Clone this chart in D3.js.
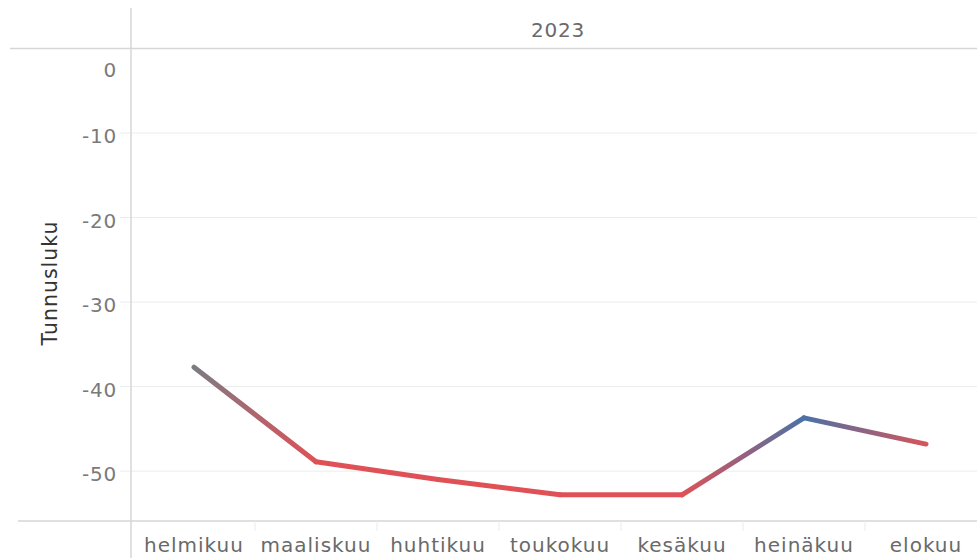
<!DOCTYPE html>
<html lang="fi">
<head>
    <meta charset="UTF-8">
    <title>Tunnusluku 2023</title>
    <script src="https://d3js.org/d3.v7.min.js"></script>
    <style>
        body {
            margin: 0;
            padding: 0;
            background: #fff;
            overflow: hidden;
        }
        svg text {
            font-family: "DejaVu Sans", Verdana, sans-serif;
        }
        .tick-label {
            font-size: 20px;
            fill: #7a7a7a;
            letter-spacing: 0.8px;
        }
        .month-label {
            font-size: 20px;
            fill: #6a6a6a;
            letter-spacing: 1px;
        }
    </style>
</head>
<body>
    <svg id="chart" width="977" height="558"></svg>

    <script>
        // Data
        const months = ["helmikuu", "maaliskuu", "huhtikuu", "toukokuu", "kesäkuu", "heinäkuu", "elokuu"];
        const values = [-37.7, -48.9, -51.0, -52.8, -52.8, -43.7, -46.8];
        // colour measure (diverging: negative = red, 0 = grey, positive = blue)
        const colorValues = [0, -1, -1, -1, -1, 1, -0.9];
        const yTicks = [0, -10, -20, -30, -40, -50];
        const yearLabel = "2023";
        const yTitle = "Tunnusluku";

        const W = 977, H = 558;
        const paneLeft = 131, paneTop = 48.5, paneBottom = 521;
        const svg = d3.select("#chart");

        const x = d3.scaleBand().domain(months).range([133, 987]);
        const y = d3.scaleLinear().domain([-55.9, 0]).range([paneBottom, paneTop]);
        const color = d3.scaleLinear()
            .domain([-1, 0, 1])
            .range(["#df5157", "#7c7b82", "#4a72a7"]);

        // gridlines + small ticks left of the axis line
        svg.append("g").selectAll("line")
            .data(yTicks.filter(d => d !== 0))
            .enter().append("line")
            .attr("x1", 120).attr("x2", W)
            .attr("y1", d => y(d)).attr("y2", d => y(d))
            .attr("stroke", "#ececec").attr("stroke-width", 1);

        // y tick labels (Tableau pushes the top one down inside the pane)
        svg.append("g").selectAll("text")
            .data(yTicks)
            .enter().append("text")
            .attr("class", "tick-label")
            .attr("x", 117)
            .attr("y", d => d === 0 ? y(d) + 28.5 : y(d) + 10)
            .attr("text-anchor", "end")
            .text(d => String(d));

        // y axis title
        svg.append("text")
            .attr("transform", "translate(57,283) rotate(-90)")
            .attr("text-anchor", "middle")
            .attr("font-size", 20.5)
            .attr("letter-spacing", 1)
            .attr("fill", "#333")
            .text(yTitle);

        // frame lines
        svg.append("line").attr("x1", paneLeft).attr("x2", paneLeft).attr("y1", 8).attr("y2", H)
            .attr("stroke", "#d6d6d6").attr("stroke-width", 1.5);
        svg.append("line").attr("x1", 10).attr("x2", W).attr("y1", paneTop).attr("y2", paneTop)
            .attr("stroke", "#d6d6d6").attr("stroke-width", 1.5);
        svg.append("line").attr("x1", 18).attr("x2", W).attr("y1", paneBottom).attr("y2", paneBottom)
            .attr("stroke", "#d6d6d6").attr("stroke-width", 1.5);

        // column separators under the axis
        svg.append("g").selectAll("line")
            .data(months.slice(1))
            .enter().append("line")
            .attr("x1", d => x(d)).attr("x2", d => x(d))
            .attr("y1", paneBottom).attr("y2", paneBottom + 10)
            .attr("stroke", "#ebebeb");

        // header
        svg.append("text")
            .attr("x", (paneLeft + W) / 2 + 4)
            .attr("y", 37)
            .attr("text-anchor", "middle")
            .attr("font-size", 20)
            .attr("letter-spacing", 0.8)
            .attr("fill", "#6a6a6a")
            .text(yearLabel);

        // month labels
        svg.append("g").selectAll("text")
            .data(months)
            .enter().append("text")
            .attr("class", "month-label")
            .attr("x", d => x(d) + x.bandwidth() / 2)
            .attr("y", 552)
            .attr("text-anchor", "middle")
            .text(d => d);

        // line with per-segment gradients
        const pts = months.map((m, i) => ({
            x: x(m) + x.bandwidth() / 2,
            y: y(values[i]),
            c: color(colorValues[i])
        }));
        const defs = svg.append("defs");
        pts.slice(0, -1).forEach((p, i) => {
            const q = pts[i + 1];
            const g = defs.append("linearGradient")
                .attr("id", "seg" + i)
                .attr("gradientUnits", "userSpaceOnUse")
                .attr("x1", p.x).attr("y1", p.y)
                .attr("x2", q.x).attr("y2", q.y);
            g.append("stop").attr("offset", "0%").attr("stop-color", p.c);
            g.append("stop").attr("offset", "100%").attr("stop-color", q.c);
        });
        svg.append("g").selectAll("line")
            .data(pts.slice(0, -1))
            .enter().append("line")
            .attr("x1", d => d.x).attr("y1", d => d.y)
            .attr("x2", (d, i) => pts[i + 1].x).attr("y2", (d, i) => pts[i + 1].y)
            .attr("stroke", (d, i) => `url(#seg${i})`)
            .attr("stroke-width", 5)
            .attr("stroke-linecap", "round");
    </script>
</body>
</html>
